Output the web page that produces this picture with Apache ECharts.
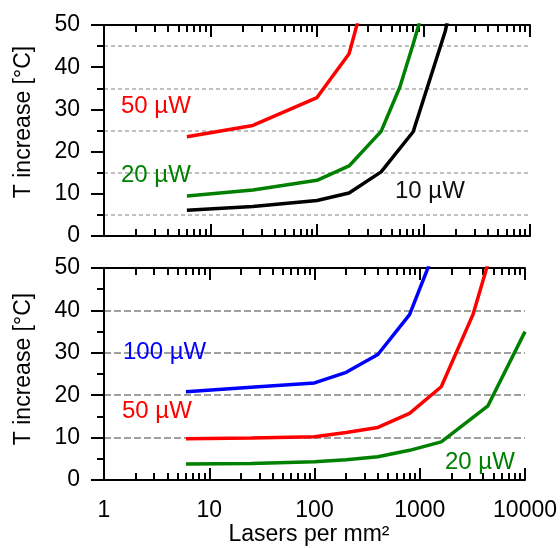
<!DOCTYPE html>
<html><head><meta charset="utf-8">
<script src="https://cdn.jsdelivr.net/npm/echarts@6/dist/echarts.min.js"></script>
<style>html,body{margin:0;padding:0;background:#fff}#c{width:560px;height:548px}</style>
</head><body><div id="c"></div>
<script>
// ---- data ----
const topX_red50 = [6, 25, 100, 200, 400];
const topY_red50 = [23.5, 26.2, 32.8, 43.2, 71];
const topX_green20 = [6, 25, 100, 200, 400, 600, 800, 1600];
const topY_green20 = [9.5, 10.9, 13.2, 16.6, 24.8, 35.3, 45.5, 71.5];
const topX_black10 = [6, 25, 100, 200, 400, 800, 1600, 3200];
const topY_black10 = [6.1, 7.0, 8.4, 10.2, 15.2, 24.7, 48.5, 85];

const botX_blue100 = [6, 25, 100, 200, 400, 800, 1600];
const botY_blue100 = [20.8, 21.9, 22.9, 25.4, 29.6, 39.0, 58];
const botX_red50 = [6, 25, 100, 200, 400, 800, 1600, 3200, 4444];
const botY_red50 = [9.75, 9.9, 10.2, 11.2, 12.4, 15.7, 22.0, 39.0, 51.0];
const botX_green20 = [6, 25, 100, 200, 400, 800, 1600, 4444, 10000];
const botY_green20 = [3.8, 3.9, 4.3, 4.8, 5.5, 7.0, 9.0, 17.5, 35.0];

const xMajorTicks = [1, 10, 100, 1000, 10000];
const xTickLabels = ['1', '10', '100', '1000', '10000'];
const xMinorTicks = [2,3,4,5,6,7,8,9,20,30,40,50,60,70,80,90,200,300,400,500,600,700,800,900,2000,3000,4000,5000,6000,7000,8000,9000];
const yTickLabels = ['0', '10', '20', '30', '40', '50'];

const seriesLabels = [
  {text: '50 µW', color: '#ff0000', x: 121, y: 106},
  {text: '20 µW', color: '#008000', x: 121, y: 175},
  {text: '10 µW', color: '#111111', x: 395, y: 191},
  {text: '100 µW', color: '#0000ff', x: 123, y: 352},
  {text: '50 µW', color: '#ff0000', x: 122, y: 411},
  {text: '20 µW', color: '#008000', x: 445, y: 462}
];
const yTitle = 'T increase [°C]';
const xTitle = 'Lasers per mm²';

// ---- chart ----
const FONT = '"Liberation Sans", Arial, sans-serif';
const pairs = (xs, ys) => xs.map((x, i) => [x, ys[i]]);
const grids = [
  {left: 104, top: 25, width: 426, height: 211},
  {left: 104, top: 268, width: 426, height: 212}
];
const axisLineStyle = {color: '#000', width: 2};
const tickStyle = {color: '#000', width: 2};
// minor ticks of the log axis are placed on a helper axis measured in decades
const minorDecadePos = xMinorTicks.map(v => Math.log10(v));

function xAxesFor(gi, showLabels) {
  const base = {type: 'log', logBase: 10, gridIndex: gi, min: 1, max: 10000, splitLine: {show: false}};
  const helper = {type: 'value', gridIndex: gi, min: 0, max: 4, splitLine: {show: false},
    axisLine: {show: false}, axisLabel: {show: false}};
  const labelCfg = {
    show: showLabels, customValues: xMajorTicks, fontSize: 23, color: '#000', fontFamily: FONT, margin: 19,
    formatter: v => xTickLabels[xMajorTicks.indexOf(Math.round(v))] || ''
  };
  return [
    Object.assign({}, base, {position: 'bottom', axisLine: {show: true, lineStyle: axisLineStyle},
      axisTick: {show: true, inside: true, length: 12, customValues: xMajorTicks, lineStyle: tickStyle},
      axisLabel: labelCfg}),
    Object.assign({}, helper, {position: 'bottom',
      axisTick: {show: true, inside: true, length: 7, customValues: minorDecadePos, lineStyle: tickStyle}}),
    Object.assign({}, base, {position: 'top', axisLine: {show: true, lineStyle: axisLineStyle},
      axisTick: {show: true, inside: true, length: 12, customValues: xMajorTicks, lineStyle: tickStyle},
      axisLabel: {show: false}}),
    Object.assign({}, helper, {position: 'top',
      axisTick: {show: true, inside: true, length: 7, customValues: minorDecadePos, lineStyle: tickStyle}})
  ];
}

function yAxesFor(gi, topStyle) {
  const base = {type: 'value', gridIndex: gi, min: 0, max: 50, interval: 10};
  const left = Object.assign({}, base, {
    position: 'left',
    axisLine: {show: true, lineStyle: axisLineStyle},
    axisTick: {show: true, inside: false, length: 13, lineStyle: tickStyle},
    minorTick: {show: true, splitNumber: 2, length: 7, lineStyle: tickStyle},
    axisLabel: {show: true, fontSize: 23, color: '#000', fontFamily: FONT, margin: 24,
      formatter: v => yTickLabels[Math.round(v / 10)]},
    splitLine: topStyle ? {show: false} : {show: true, showMinLine: false, showMaxLine: false,
      lineStyle: {color: '#808080', width: 1.5, type: [7, 3]}},
    minorSplitLine: topStyle ? {show: true, lineStyle: {color: '#c0c0c0', width: 2, type: [4, 3]}} : {show: false}
  });
  const right = Object.assign({}, base, {
    position: 'right',
    axisLine: {show: true, lineStyle: axisLineStyle},
    axisTick: {show: true, inside: true, length: 13, lineStyle: tickStyle},
    minorTick: {show: true, splitNumber: 2, length: 7, lineStyle: tickStyle},
    axisLabel: {show: false},
    splitLine: {show: false}
  });
  return [left, right];
}

function line(data, color, xi, yi) {
  return {type: 'line', data, xAxisIndex: xi, yAxisIndex: yi, showSymbol: false, symbol: 'none',
    clip: true, smooth: false, lineStyle: {color, width: 3.5}, itemStyle: {color}, z: 5, silent: true};
}

const graphics = seriesLabels.map(l => ({
  type: 'text', x: l.x, y: l.y, z: 10,
  style: {text: l.text, fill: l.color, font: '24px ' + FONT, align: 'left', verticalAlign: 'middle'}
}));
graphics.push({type: 'text', x: 24, y: 122, rotation: Math.PI / 2, z: 10,
  style: {text: yTitle, fill: '#000', font: '23px ' + FONT, align: 'center', verticalAlign: 'middle'}});
graphics.push({type: 'text', x: 24, y: 369, rotation: Math.PI / 2, z: 10,
  style: {text: yTitle, fill: '#000', font: '23px ' + FONT, align: 'center', verticalAlign: 'middle'}});
graphics.push({type: 'text', x: 309, y: 535, z: 10,
  style: {text: xTitle, fill: '#000', font: '23px ' + FONT, align: 'center', verticalAlign: 'middle'}});

const option = {
  animation: false,
  backgroundColor: '#fff',
  grid: grids,
  xAxis: [...xAxesFor(0, false), ...xAxesFor(1, true)],
  yAxis: [...yAxesFor(0, true), ...yAxesFor(1, false)],
  series: [
    line(pairs(topX_red50, topY_red50), '#ff0000', 0, 0),
    line(pairs(topX_green20, topY_green20), '#008000', 0, 0),
    line(pairs(topX_black10, topY_black10), '#000000', 0, 0),
    line(pairs(botX_blue100, botY_blue100), '#0000ff', 4, 2),
    line(pairs(botX_red50, botY_red50), '#ff0000', 4, 2),
    line(pairs(botX_green20, botY_green20), '#008000', 4, 2)
  ],
  graphic: graphics
};
const chart = echarts.init(document.getElementById('c'));
chart.setOption(option);
</script>
</body></html>
